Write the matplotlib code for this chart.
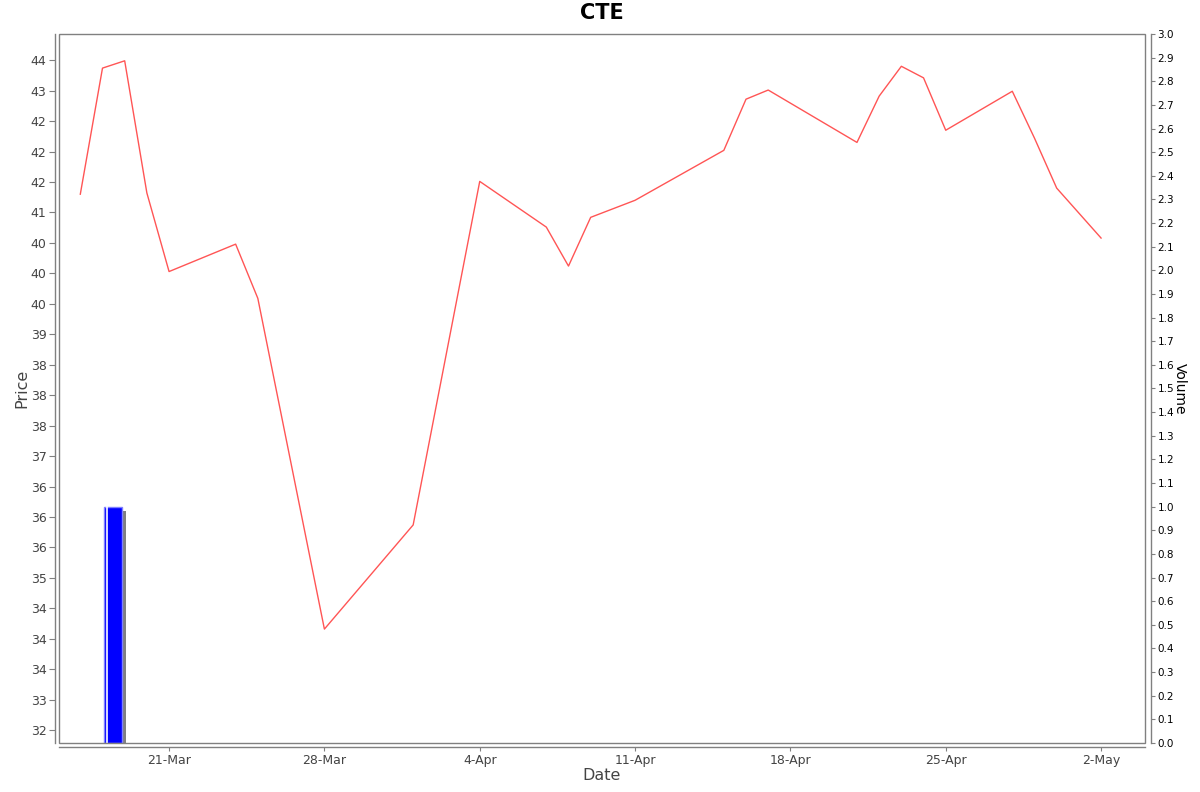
import matplotlib
matplotlib.use("Agg")
import matplotlib.pyplot as plt
import matplotlib.dates as mdates
import matplotlib.patches as mpatches
from matplotlib.ticker import FixedLocator, FuncFormatter
import numpy as np
import pandas as pd

# price series
dates = pd.to_datetime([
    "2025-03-17", "2025-03-18", "2025-03-19", "2025-03-20", "2025-03-21",
    "2025-03-24", "2025-03-25", "2025-03-28", "2025-04-01", "2025-04-04",
    "2025-04-07", "2025-04-08", "2025-04-09", "2025-04-11", "2025-04-15",
    "2025-04-16", "2025-04-17", "2025-04-21", "2025-04-22", "2025-04-23",
    "2025-04-24", "2025-04-25", "2025-04-28", "2025-04-29", "2025-04-30",
    "2025-05-02",
])
prices = [41.30, 43.37, 43.49, 41.32, 40.03,
          40.48, 39.59, 34.16, 35.87, 41.51,
          40.76, 40.12, 40.92, 41.20, 42.02,
          42.86, 43.01, 42.15, 42.91, 43.40,
          43.21, 42.35, 42.99, 42.22, 41.40,
          40.58]

# volume
vol_dates = pd.to_datetime(["2025-03-18"])
volumes = [1.0]

price_ticks = [32.5 + 0.5 * i for i in range(23)]
vol_ticks = [round(0.1 * i, 1) for i in range(31)]
date_ticks = pd.to_datetime(["2025-03-21", "2025-03-28", "2025-04-04",
                             "2025-04-11", "2025-04-18", "2025-04-25", "2025-05-02"])
date_labels = ["21-Mar", "28-Mar", "4-Apr", "11-Apr", "18-Apr", "25-Apr", "2-May"]

plt.rcParams['font.family'] = ['DejaVu Sans']

fig = plt.figure(figsize=(12, 7.92), dpi=100)
ax = fig.add_axes([59 / 1200, 1 - 743 / 792, (1145 - 59) / 1200, (743 - 34) / 792])
ax2 = ax.twinx()

grey = '#808080'
label_col = '#444444'

# volume bars (with shadow), drawn on the right axis
for d, v in zip(vol_dates, volumes):
    x0 = mdates.date2num(d) + 0.09
    ax2.bar(x0 + 0.18, v - 0.017, width=0.81, bottom=0, align='edge',
            color='#808080', zorder=1)
    ax2.bar(x0, v, width=0.81, align='edge', color='#0000ff',
            edgecolor='#8080ff', linewidth=1.0, zorder=2)
    ax2.plot([x0 + 0.1, x0 + 0.1], [0, v], color='white', lw=1.2, zorder=3)

ax.set_zorder(ax2.get_zorder() + 1)
ax.patch.set_visible(False)

ax.plot(mdates.date2num(dates), prices, color='#ff5555', lw=1.0, zorder=4)

xmin = mdates.date2num(pd.Timestamp("2025-03-21")) - 4.96
xmax = mdates.date2num(pd.Timestamp("2025-03-21")) + 43.98
ax.set_xlim(xmin, xmax)
ax.set_ylim(32.29, 43.93)
ax2.set_ylim(0, 3.0)

ax.yaxis.set_major_locator(FixedLocator(price_ticks))
ax.yaxis.set_major_formatter(FuncFormatter(lambda v, p: "%d" % round(v)))
ax.set_xticks(mdates.date2num(date_ticks))
ax.set_xticklabels(date_labels)
ax2.yaxis.set_major_locator(FixedLocator(vol_ticks))
ax2.yaxis.set_major_formatter(FuncFormatter(lambda v, p: "%.1f" % v))

for s in ['top', 'right']:
    ax.spines[s].set_visible(False)
for s in ['top', 'left', 'bottom']:
    ax2.spines[s].set_visible(False)
ax.spines['left'].set_position(('outward', 3))
ax.spines['bottom'].set_position(('outward', 3))
ax2.spines['right'].set_position(('outward', 4))
for sp in [ax.spines['left'], ax.spines['bottom'], ax2.spines['right']]:
    sp.set_color(grey)
    sp.set_linewidth(1.0)

ax.add_patch(mpatches.Rectangle((0, 0), 1, 1, transform=ax.transAxes, fill=False,
                                edgecolor=grey, linewidth=1.0, clip_on=False, zorder=5))

ax.tick_params(axis='y', direction='out', length=4, width=0.8, color=grey,
               labelsize=9, labelcolor=label_col, pad=2)
ax.tick_params(axis='x', direction='out', length=3, width=0.8, color=grey,
               labelsize=9, labelcolor=label_col, pad=2)
ax2.tick_params(axis='y', direction='out', length=3, width=0.8, color=grey,
                labelsize=7.5, labelcolor='black', pad=2)

ax.set_ylabel('Price', fontsize=11.5, color=label_col, labelpad=1)
ax.set_xlabel('Date', fontsize=11.5, color=label_col, labelpad=1)
ax2.set_ylabel('Volume', fontsize=10, color='black', rotation=270, labelpad=9)
ax.set_title('CTE', fontsize=15, fontweight='bold', pad=11)

fig.savefig('out.png', dpi=100)
